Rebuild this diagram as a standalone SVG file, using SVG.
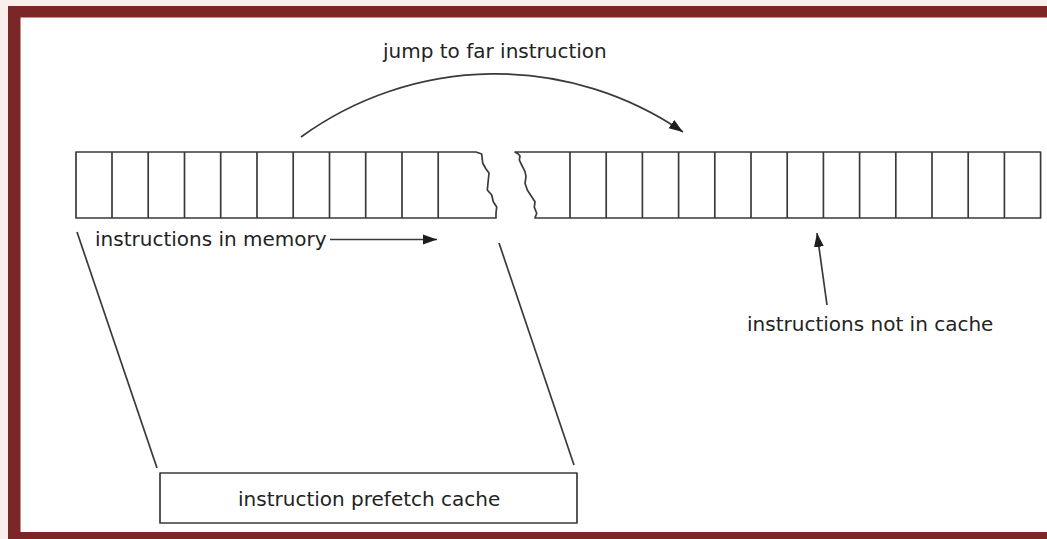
<svg xmlns="http://www.w3.org/2000/svg" width="1047" height="539" viewBox="0 0 1047 539">
<style>
.ln{fill:none;stroke:#3a3a3a;stroke-width:1.7;stroke-linejoin:round}
.dv{stroke:#3a3a3a;stroke-width:1.7}
.tx{font-family:"DejaVu Sans","Liberation Sans",sans-serif;font-size:20px;fill:#232323}
</style>
<defs>
<marker id="ah" markerUnits="userSpaceOnUse" markerWidth="15" markerHeight="12" viewBox="0 0 15 12" refX="14" refY="6" orient="auto">
<path d="M0,1 L14,6 L0,11 Z" fill="#1e1e1e"/>
</marker>
</defs>
<rect x="0" y="0" width="1047" height="539" fill="#fbefeb"/>
<rect x="8" y="6" width="1039" height="533" fill="#7b2727"/>
<rect x="20.5" y="17.5" width="1026.5" height="514.5" fill="#ffffff"/>

<g id="memory-left">
<path class="ln" d="M476,152 H76 V218 H496 L496,213 L496.7,207 L493.3,201.7 L491.7,195 L487.3,190 L489,173 L486,169 L482.7,163 L481.7,154 Z"/>
<g class="dv">
<line x1="112" y1="152" x2="112" y2="218"/>
<line x1="148.2" y1="152" x2="148.2" y2="218"/>
<line x1="184.5" y1="152" x2="184.5" y2="218"/>
<line x1="220.7" y1="152" x2="220.7" y2="218"/>
<line x1="257" y1="152" x2="257" y2="218"/>
<line x1="293.2" y1="152" x2="293.2" y2="218"/>
<line x1="329.5" y1="152" x2="329.5" y2="218"/>
<line x1="365.7" y1="152" x2="365.7" y2="218"/>
<line x1="402" y1="152" x2="402" y2="218"/>
<line x1="438.2" y1="152" x2="438.2" y2="218"/>
</g>
</g>

<g id="memory-right">
<path class="ln" d="M515,152 H1040.6 V218 H535 L536.7,213.3 L534.3,207.3 L535,201.7 L531.7,196.7 L527.3,190 L525,183.3 L526,176.7 L525,171.7 L521.7,165 L519.3,160 L520,156 L518.3,154 Z"/>
<g class="dv">
<line x1="570" y1="152" x2="570" y2="218"/>
<line x1="606.2" y1="152" x2="606.2" y2="218"/>
<line x1="642.4" y1="152" x2="642.4" y2="218"/>
<line x1="678.6" y1="152" x2="678.6" y2="218"/>
<line x1="714.8" y1="152" x2="714.8" y2="218"/>
<line x1="751" y1="152" x2="751" y2="218"/>
<line x1="787.2" y1="152" x2="787.2" y2="218"/>
<line x1="823.4" y1="152" x2="823.4" y2="218"/>
<line x1="859.6" y1="152" x2="859.6" y2="218"/>
<line x1="895.8" y1="152" x2="895.8" y2="218"/>
<line x1="932" y1="152" x2="932" y2="218"/>
<line x1="968.2" y1="152" x2="968.2" y2="218"/>
<line x1="1004.4" y1="152" x2="1004.4" y2="218"/>
</g>
</g>

<g id="cache">
<rect class="ln" x="160" y="473" width="417" height="50"/>
<text class="tx" x="238" y="506">instruction prefetch cache</text>
</g>

<g id="label-jump"><text class="tx" x="383" y="58">jump to far instruction</text></g>
<g id="label-memory"><text class="tx" x="95" y="246">instructions in memory</text></g>
<g id="label-notcache"><text class="tx" x="747" y="331">instructions not in cache</text></g>

<g id="connectors">
<path class="ln" d="M301,137 A331.4,331.4 0 0 1 683,132" marker-end="url(#ah)"/>
<line class="ln" x1="330" y1="239.5" x2="437" y2="239.5" marker-end="url(#ah)"/>
<line class="ln" x1="827" y1="305" x2="817" y2="233" marker-end="url(#ah)"/>
<line class="ln" x1="77" y1="232" x2="157" y2="468"/>
<line class="ln" x1="499" y1="243" x2="574" y2="465"/>
</g>
</svg>
